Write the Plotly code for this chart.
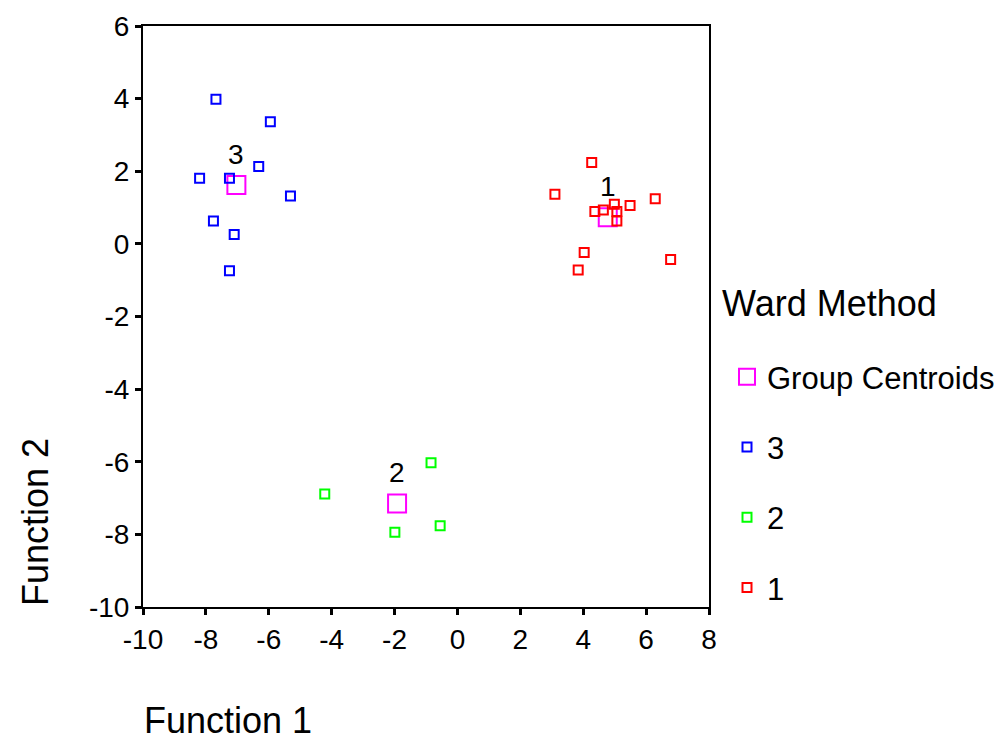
import plotly.graph_objects as go

# Group 3 (blue)
g3_x = [-7.68, -5.95, -6.32, -8.20, -7.25, -5.31, -7.76, -7.10, -7.25]
g3_y = [3.98, 3.36, 2.13, 1.81, 1.81, 1.32, 0.63, 0.26, -0.74]
# Group 2 (green)
g2_x = [-0.84, -4.22, -1.99, -0.55]
g2_y = [-6.03, -6.89, -7.94, -7.76]
# Group 1 (red)
g1_x = [4.27, 3.10, 6.29, 5.49, 4.99, 4.37, 4.64, 5.07, 5.07, 4.03, 6.78, 3.84]
g1_y = [2.24, 1.37, 1.24, 1.06, 1.09, 0.89, 0.93, 0.89, 0.63, -0.24, -0.43, -0.72]
# Group centroids
cent_labels = ["3", "2", "1"]
cent_x = [-7.03, -1.92, 4.78]
cent_y = [1.62, -7.15, 0.73]

x_ticks = [-10, -8, -6, -4, -2, 0, 2, 4, 6, 8]
y_ticks = [-10, -8, -6, -4, -2, 0, 2, 4, 6]

FONT = "Arial, Liberation Sans, sans-serif"
PW, PH = 566, 581  # plot area size in px (for paper positioning of texts)

fig = go.Figure()
fig.add_trace(go.Scatter(
    x=cent_x, y=cent_y, mode="markers", name="Group Centroids",
    legendgroup="c",
    marker=dict(symbol="square-open", size=18, color="#FF00FF", line=dict(width=2, color="#FF00FF")),
))
groups = [("3", g3_x, g3_y, "#0000FF"), ("2", g2_x, g2_y, "#00FF00"), ("1", g1_x, g1_y, "#FF0000")]
for name, xs, ys, col in groups:
    fig.add_trace(go.Scatter(
        x=xs, y=ys, mode="markers", name=name, legendgroup=name,
        marker=dict(symbol="square-open", size=9, color=col, line=dict(width=2, color=col)),
    ))

for lab, cx, cy in zip(cent_labels, cent_x, cent_y):
    fig.add_annotation(x=cx, y=cy, text=lab, showarrow=False, yshift=31,
                       font=dict(family=FONT, size=28, color="black"))

# Axis titles
fig.add_annotation(xref="paper", yref="paper", x=(228 - 143) / PW, y=-(720 - 607) / PH,
                   text="Function 1", showarrow=False, xanchor="center", yanchor="middle",
                   font=dict(family=FONT, size=36, color="black"))
fig.add_annotation(xref="paper", yref="paper", x=-(143 - 35) / PW, y=(607 - 522) / PH,
                   text="Function 2", showarrow=False, textangle=-90, xanchor="center", yanchor="middle",
                   font=dict(family=FONT, size=36, color="black"))
# Legend heading
fig.add_annotation(xref="paper", yref="paper", x=(720 - 143) / PW, y=(607 - 303) / PH,
                   text="Ward Method", showarrow=False, xanchor="left", yanchor="middle",
                   font=dict(family=FONT, size=36, color="black"))

axis_common = dict(
    showgrid=False, zeroline=False, showline=True, linecolor="black", linewidth=2,
    mirror=True, ticks="outside", ticklen=6, tickwidth=3, tickcolor="black",
    tickfont=dict(family=FONT, size=28, color="black"),
)
fig.update_xaxes(range=[-10, 8], tickvals=x_ticks, ticktext=[str(v) for v in x_ticks], **axis_common)
fig.update_yaxes(range=[-10, 6], tickvals=y_ticks, ticktext=[str(v) for v in y_ticks], **axis_common)

fig.update_layout(
    width=1008, height=740,
    margin=dict(l=143, r=299, t=26, b=133, autoexpand=False),
    plot_bgcolor="white", paper_bgcolor="white",
    font=dict(family=FONT, color="black"),
    legend=dict(
        font=dict(family=FONT, size=31, color="black"),
        x=(727 - 143) / PW, xanchor="left",
        y=(607 - 350) / PH, yanchor="top",
        tracegroupgap=27, itemsizing="trace",
        bgcolor="rgba(0,0,0,0)",
    ),
    showlegend=True,
)

fig.write_html("out.html")
